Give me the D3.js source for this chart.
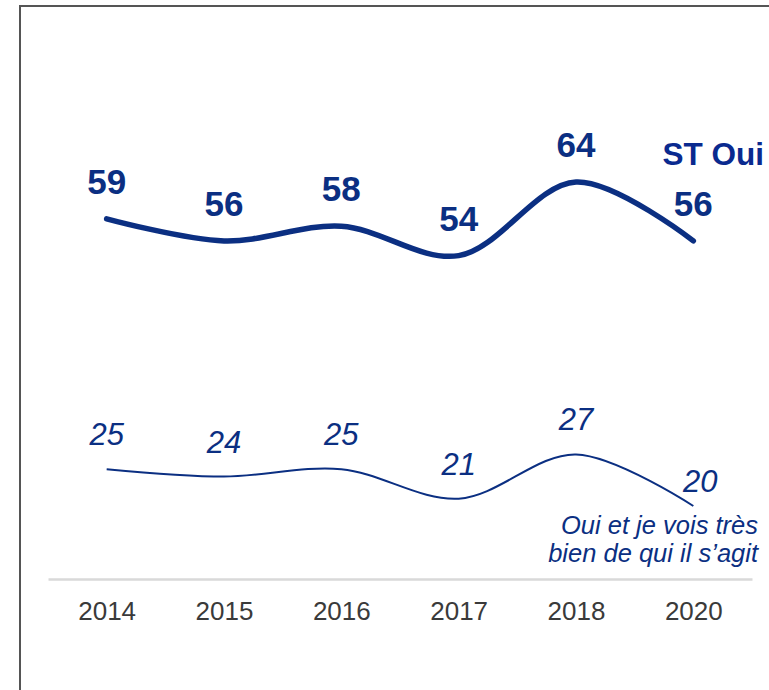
<!DOCTYPE html>
<html>
<head>
<meta charset="utf-8">
<script src="https://cdn.jsdelivr.net/npm/d3@7"></script>
<style>
  body { margin: 0; background: #fff; }
  svg { display: block; font-family: "Liberation Sans", Arial, sans-serif; }
</style>
</head>
<body>
<div id="chart"></div>
<script>
var years = ["2014", "2015", "2016", "2017", "2018", "2020"];
var stOui = [59, 56, 58, 54, 64, 56];
var ouiTresBien = [25, 24, 25, 21, 27, 20];
var stOuiLabel = "ST Oui";
var ouiLabelLines = ["Oui et je vois très", "bien de qui il s\u2019agit"];

var width = 769, height = 690;
var navy = "#0b2f82";

var svg = d3.select("#chart").append("svg")
    .attr("width", width)
    .attr("height", height);

// frame (left + top edges only visible)
svg.append("path")
    .attr("d", "M20," + height + "V6H" + width)
    .attr("fill", "none")
    .attr("stroke", "#555")
    .attr("stroke-width", 2);

var x = d3.scalePoint()
    .domain(years)
    .range([48, 752])
    .padding(0.5);

var y = d3.scaleLinear()
    .domain([20, 64])
    .range([506, 182]);

// x axis
var axis = svg.append("g")
    .attr("transform", "translate(0,579)")
    .call(d3.axisBottom(x).tickSize(0).tickPadding(23));
axis.select(".domain").attr("stroke", "#d9d9d9").attr("stroke-width", 2.5);
axis.selectAll("text")
    .attr("fill", "#3a3a3a")
    .style("font-size", "26px")
    .style("font-family", "'Liberation Sans', Arial, sans-serif");

var line = d3.line()
    .x(function(d, i) { return x(years[i]); })
    .y(function(d) { return y(d); })
    .curve(d3.curveCatmullRom.alpha(0.5));

// ST Oui
svg.append("path")
    .datum(stOui)
    .attr("d", line)
    .attr("fill", "none")
    .attr("stroke", navy)
    .attr("stroke-width", 5.5)
    .attr("stroke-linecap", "round");

svg.selectAll(".lblTop")
    .data(stOui)
    .enter().append("text")
    .attr("class", "lblTop")
    .attr("x", function(d, i) { return x(years[i]); })
    .attr("y", function(d) { return y(d) - 25; })
    .attr("text-anchor", "middle")
    .attr("fill", navy)
    .style("font-size", "35px")
    .style("font-weight", "bold")
    .text(function(d) { return d; });

svg.append("text")
    .attr("x", 764)
    .attr("y", 165)
    .attr("text-anchor", "end")
    .attr("fill", "#0a2a8f")
    .style("font-size", "31.5px")
    .style("font-weight", "bold")
    .text(stOuiLabel);

// Oui et je vois très bien
svg.append("path")
    .datum(ouiTresBien)
    .attr("d", line)
    .attr("fill", "none")
    .attr("stroke", navy)
    .attr("stroke-width", 2);

var last = ouiTresBien.length - 1;
svg.selectAll(".lblBot")
    .data(ouiTresBien)
    .enter().append("text")
    .attr("class", "lblBot")
    .attr("x", function(d, i) { return x(years[i]) + (i == last ? 7 : 0); })
    .attr("y", function(d, i) { return y(d) - (i == last ? 14 : 24); })
    .attr("text-anchor", "middle")
    .attr("fill", navy)
    .style("font-size", "31px")
    .style("font-style", "italic")
    .text(function(d) { return d; });

svg.selectAll(".lblName")
    .data(ouiLabelLines)
    .enter().append("text")
    .attr("class", "lblName")
    .attr("x", 758)
    .attr("y", function(d, i) { return 534 + i * 28; })
    .attr("text-anchor", "end")
    .attr("fill", navy)
    .style("font-size", "25.5px")
    .style("font-style", "italic")
    .text(function(d) { return d; });
</script>
</body>
</html>
